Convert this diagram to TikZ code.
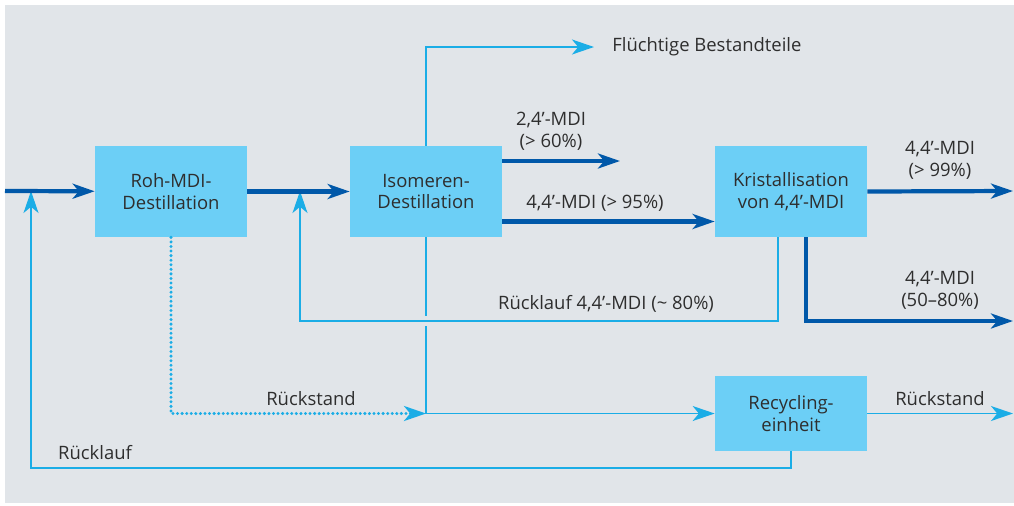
\documentclass[tikz,border=0pt]{standalone}
\usepackage{fontspec}
\setmainfont{Open Sans}
\usepackage{tikz}
\usetikzlibrary{arrows.meta, positioning, calc}
\definecolor{bggray}{HTML}{E1E5E9}
\definecolor{boxblue}{HTML}{6CCFF6}
\definecolor{darkblue}{HTML}{0058A9}
\definecolor{lightblue}{HTML}{1BADE6}
\definecolor{txtgray}{HTML}{2E2E2E}
\newcommand{\mdifont}{\fontsize{10.5}{12.5}\selectfont}

\begin{document}
\begin{tikzpicture}[x=0.02cm, y=-0.02cm,
  box/.style={rectangle, fill=boxblue, minimum width=3.04cm, minimum height=1.82cm, align=center, font=\mdifont, text=txtgray, inner sep=0pt},
  lbl/.style={align=center, font=\mdifont, text=txtgray, inner sep=0pt},
  mainflow/.style={draw=darkblue, line width=2.4pt, -{Stealth[length=12.5pt, width=8.5pt, inset=3.5pt]}},
  sideflow/.style={draw=lightblue, line width=1.1pt, -{Stealth[length=12.5pt, width=8.5pt, inset=3.5pt]}},
  dotflow/.style={sideflow, line width=1.9pt, line cap=round, dash pattern=on 0pt off 2.6pt},
]
\useasboundingbox (0,0) rectangle (1014,505);
\fill[bggray] (5,5) rectangle (1014,503);

% Boxes
\node[box] (roh) at (171,191.5) {Roh-MDI-\\Destillation};
\node[box] (iso) at (426,191.5) {Isomeren-\\Destillation};
\node[box] (kri) at (791,191.5) {Kristallisation\\von 4,4'-MDI};
\node[box, minimum height=1.5cm] (rec) at (791,413.5) {Recycling-\\einheit};

% Free ends
\coordinate (feed) at (5,191);
\coordinate (ret1) at (31,191);
\coordinate (ret2) at (300,191);
\coordinate (junc) at (426,413.5);
\coordinate (out24) at (620,161);
\coordinate (out99) at (1013,191);
\coordinate (out50) at (1013,321);
\coordinate (outrs) at (1013,413.5);

% Labels
\node[lbl, anchor=west] (fluecht) at (612,47) {Flüchtige Bestandteile};
\node[lbl] (l24) at (551,131) {2,4'-MDI\\(> 60\%)};
\node[lbl] (l95) at (595,203) {4,4'-MDI (> 95\%)};
\node[lbl] (l99) at (940,160) {4,4'-MDI\\(> 99\%)};
\node[lbl] (l50) at (940,290) {4,4'-MDI\\(50--80\%)};
\node[lbl] (lrl) at (606,304) {Rücklauf 4,4'-MDI (\textasciitilde{} 80\%)};
\node[lbl] (lrs1) at (311,399) {Rückstand};
\node[lbl] (lrs2) at (940,399) {Rückstand};
\node[lbl] (lrl2) at (95,453) {Rücklauf};

% Side streams
\draw[sideflow] (iso.north) |- ([xshift=-0.36cm]fluecht.west);
\draw[sideflow, -] (iso.south) -- (junc);
\draw[sideflow] (junc) -- (rec.west);
\draw[dotflow] (roh.south) |- (junc);
\draw[sideflow, preaction={draw=bggray, line width=0.2cm, -}] ([xshift=-0.26cm]kri.south) -- ++(0,84) -| (ret2);
\draw[sideflow] (rec.south) -- ++(0,17) -| (ret1);
\draw[sideflow] (rec.east) -- (outrs);

% Main streams
\draw[mainflow] (feed) -- (roh);
\draw[mainflow] (roh) -- (iso);
\draw[mainflow] (iso.east |- out24) -- (out24);
\draw[mainflow] ([yshift=-0.6cm]iso.east) -- ([yshift=-0.6cm]kri.west);
\draw[mainflow] (kri.east) -- (out99);
\draw[mainflow] ([xshift=0.3cm]kri.south) |- (out50);
\end{tikzpicture}
\end{document}
